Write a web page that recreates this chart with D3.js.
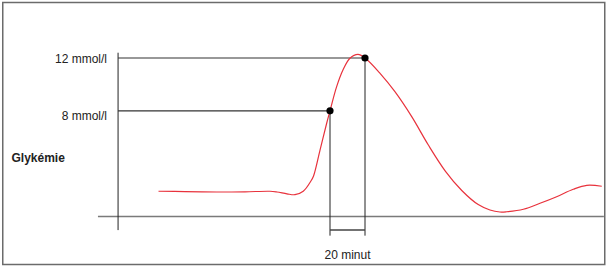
<!DOCTYPE html>
<html>
<head>
<meta charset="utf-8">
<script src="https://cdn.jsdelivr.net/npm/d3@7"></script>
<style>
  html, body { margin: 0; padding: 0; background: #fff; }
  svg { display: block; }
  text { font-family: "Liberation Sans", Arial, sans-serif; }
</style>
</head>
<body>
<svg id="chart" width="610" height="269"></svg>
<script>
// ---- data ----
const timeMin = [22, 37.1, 55.3, 71.4, 85.7, 89.7, 95.4, 100, 104.7, 109.1, 110.6, 114.3, 118.1, 120, 123.8, 127.4, 131.4, 136, 140, 148.6, 157.1, 166.7, 176.2, 186, 195.3, 204.7, 211.4, 217.1, 221, 230.5, 240, 249.5, 259, 266.7, 275.3];
const glucose = [1.91, 1.885, 1.855, 1.87, 1.91, 1.855, 1.72, 1.65, 1.91, 2.69, 3.07, 5.03, 7.06, 8, 9.83, 11.09, 11.98, 12.27, 12, 10.84, 9.45, 7.56, 5.41, 3.42, 1.97, 0.9, 0.49, 0.34, 0.36, 0.55, 1.0, 1.5, 2.06, 2.36, 2.29];
const markTimes = [120, 140];
const markValues = [8, 12];
const tickValues = [12, 8];
const tickLabels = ["12 mmol/l", "8 mmol/l"];
const yTitle = "Glykémie";
const intervalLabel = "20 minut";

// ---- scales ----
const x = d3.scaleLinear().domain([0, 140]).range([120, 365]);
const y = d3.scaleLinear().domain([0, 12]).range([216.5, 58]);

const svg = d3.select("#chart");

// frame
svg.append("rect")
  .attr("x", 2.75).attr("y", 2.5).attr("width", 602).attr("height", 262)
  .attr("fill", "none").attr("stroke", "#6b6b6b").attr("stroke-width", 1.5);

// horizontal (time) axis
svg.append("line")
  .attr("x1", x(-12.6)).attr("x2", x(276.5))
  .attr("y1", y(0)).attr("y2", y(0))
  .attr("stroke", "#7a7a7a").attr("stroke-width", 1.6);

// vertical (glucose) axis
svg.append("line")
  .attr("x1", x(-1.1)).attr("x2", x(-1.1))
  .attr("y1", y(12.4)).attr("y2", y(-1.03))
  .attr("stroke", "#222").attr("stroke-width", 1);

// reference lines from axis to points
const marks = markTimes.map((t, i) => ({ t, v: markValues[i] }));
svg.selectAll("line.ref").data(marks).enter().append("line")
  .attr("class", "ref")
  .attr("x1", x(-1.1)).attr("x2", d => x(d.t))
  .attr("y1", d => y(d.v)).attr("y2", d => y(d.v))
  .attr("stroke", "#333").attr("stroke-width", 1.2);

// drop lines
svg.selectAll("line.drop").data(marks).enter().append("line")
  .attr("class", "drop")
  .attr("x1", d => x(d.t)).attr("x2", d => x(d.t))
  .attr("y1", d => y(d.v)).attr("y2", y(-1.45))
  .attr("stroke", "#222").attr("stroke-width", 1);

// interval bracket
svg.append("line")
  .attr("x1", x(markTimes[0])).attr("x2", x(markTimes[1]))
  .attr("y1", y(-1.02)).attr("y2", y(-1.02))
  .attr("stroke", "#444").attr("stroke-width", 1.5);

// curve
const pts = timeMin.map((t, i) => [t, glucose[i]]);
const line = d3.line()
  .x(d => x(d[0])).y(d => y(d[1]))
  .curve(d3.curveCatmullRom.alpha(0.5));
svg.append("path")
  .attr("d", line(pts))
  .attr("fill", "none").attr("stroke", "#e8323c").attr("stroke-width", 1.2);

// dots
svg.selectAll("circle.dot").data(marks).enter().append("circle")
  .attr("class", "dot")
  .attr("cx", d => x(d.t)).attr("cy", d => y(d.v)).attr("r", 3.6)
  .attr("fill", "#000");

// tick labels
svg.selectAll("text.tick").data(tickValues).enter().append("text")
  .attr("class", "tick")
  .attr("x", 107).attr("y", (d, i) => y(d) + (i === 0 ? 4.5 : 9.5))
  .attr("text-anchor", "end")
  .attr("font-size", 12).attr("fill", "#222")
  .text((d, i) => tickLabels[i]);

// y title
svg.append("text")
  .attr("x", 11.5).attr("y", 162)
  .attr("font-size", 12).attr("font-weight", "bold").attr("fill", "#222")
  .text(yTitle);

// interval label
svg.append("text")
  .attr("x", x((markTimes[0] + markTimes[1]) / 2)).attr("y", 259)
  .attr("text-anchor", "middle")
  .attr("font-size", 12).attr("fill", "#222")
  .text(intervalLabel);
</script>
</body>
</html>
